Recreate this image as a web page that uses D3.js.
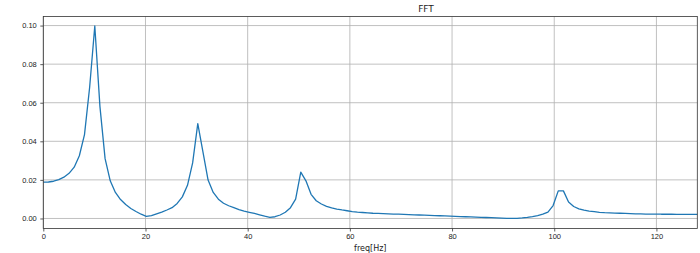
<!DOCTYPE html>
<html>
<head>
<meta charset="utf-8">
<script src="https://cdn.jsdelivr.net/npm/d3@7"></script>
<style>
  html, body { margin: 0; padding: 0; background: #fff; }
  svg { display: block; font-family: "DejaVu Sans", sans-serif; }
  .tick text { fill: #222; font-size: 7.5px; }
</style>
</head>
<body>
<div id="chart"></div>
<script>
// ── Data ──
const nyquist = 128;          // freq axis: linspace(0, 128, 128)
const amplitude = [
  0.0188, 0.0189, 0.0193, 0.0201, 0.0214, 0.0234, 0.0266, 0.0325, 0.0435, 0.0680,
  0.0998, 0.0580, 0.0310, 0.0195, 0.0135, 0.0098, 0.0072, 0.0052, 0.0036, 0.0022,
  0.0011, 0.0015, 0.0024, 0.0033, 0.0044, 0.0056, 0.0078, 0.0112, 0.0172, 0.0288,
  0.0492, 0.0345, 0.0199, 0.0135, 0.0100, 0.0079, 0.0066, 0.0056, 0.0046, 0.0038,
  0.0032, 0.0026, 0.0019, 0.0012, 0.0006, 0.0009, 0.0018, 0.0032, 0.0056, 0.0100,
  0.0240, 0.0195, 0.0125, 0.0092, 0.0075, 0.0063, 0.0055, 0.0049, 0.0044, 0.0040,
  0.0036, 0.0033, 0.0031, 0.0029, 0.0027, 0.0026, 0.0025, 0.0024, 0.0023, 0.0022,
  0.0021, 0.0020, 0.0019, 0.0018, 0.0017, 0.0016, 0.0015, 0.0014, 0.0013, 0.0012,
  0.0011, 0.0010, 0.0009, 0.0008, 0.0007, 0.0006, 0.0005, 0.0004, 0.0003, 0.0002,
  0.0001, 0.00005, 0.0001, 0.0003, 0.0006, 0.0010, 0.0015, 0.0022, 0.0033, 0.0067,
  0.0143, 0.0143, 0.0085, 0.0062, 0.0050, 0.0043, 0.0038, 0.0035, 0.0032, 0.0030,
  0.0029, 0.0028, 0.0027, 0.0026, 0.0025, 0.0024, 0.0024, 0.0023, 0.0023, 0.0023,
  0.0022, 0.0022, 0.0022, 0.0021, 0.0021, 0.0021, 0.0021, 0.0021
];
const freqs = amplitude.map((_, k) => k * nyquist / (amplitude.length - 1));
const xTicks = [0, 20, 40, 60, 80, 100, 120];
const yTicks = [0.00, 0.02, 0.04, 0.06, 0.08, 0.10];

// ── Layout ──
const W = 700, H = 253;
const margin = { top: 16.5, right: 2.7, bottom: 24.5, left: 43.3 };
const iw = W - margin.left - margin.right;
const ih = H - margin.top - margin.bottom;

const svg = d3.select('#chart').append('svg').attr('width', W).attr('height', H);
const g = svg.append('g').attr('transform', `translate(${margin.left},${margin.top})`);

const x = d3.scaleLinear().domain([0, nyquist]).range([0, iw]);
const y = d3.scaleLinear().domain([-0.0052, 0.1047]).range([ih, 0]);

// grid
g.append('g').selectAll('line').data(xTicks).join('line')
  .attr('x1', d => x(d)).attr('x2', d => x(d)).attr('y1', 0).attr('y2', ih)
  .attr('stroke', '#b0b0b0').attr('stroke-width', 0.8);
g.append('g').selectAll('line').data(yTicks).join('line')
  .attr('y1', d => y(d)).attr('y2', d => y(d)).attr('x1', 0).attr('x2', iw)
  .attr('stroke', '#b0b0b0').attr('stroke-width', 0.8);

// axes
const xAxis = g.append('g').attr('transform', `translate(0,${ih})`)
  .call(d3.axisBottom(x).tickValues(xTicks).tickSize(3).tickPadding(2.5).tickFormat(d3.format('d')));
const yAxis = g.append('g')
  .call(d3.axisLeft(y).tickValues(yTicks).tickSize(3).tickPadding(3.5).tickFormat(d3.format('.2f')));
[xAxis, yAxis].forEach(a => {
  a.select('.domain').remove();
  a.selectAll('.tick line').attr('stroke', '#333').attr('stroke-width', 0.8);
});

// line
g.append('path')
  .datum(amplitude)
  .attr('fill', 'none').attr('stroke', '#1f77b4').attr('stroke-width', 1.3)
  .attr('stroke-linejoin', 'round')
  .attr('d', d3.line().x((d, i) => x(freqs[i])).y(d => y(d)));

// frame
g.append('rect').attr('width', iw).attr('height', ih)
  .attr('fill', 'none').attr('stroke', '#333').attr('stroke-width', 0.8);

// labels
svg.append('text').attr('x', 426).attr('y', 11.5).attr('text-anchor', 'middle')
  .attr('font-size', '9px').attr('fill', '#222').text('FFT');
svg.append('text').attr('x', margin.left + iw / 2).attr('y', 250.5).attr('text-anchor', 'middle')
  .attr('font-size', '8px').attr('fill', '#222').text('freq[Hz]');
</script>
</body>
</html>
